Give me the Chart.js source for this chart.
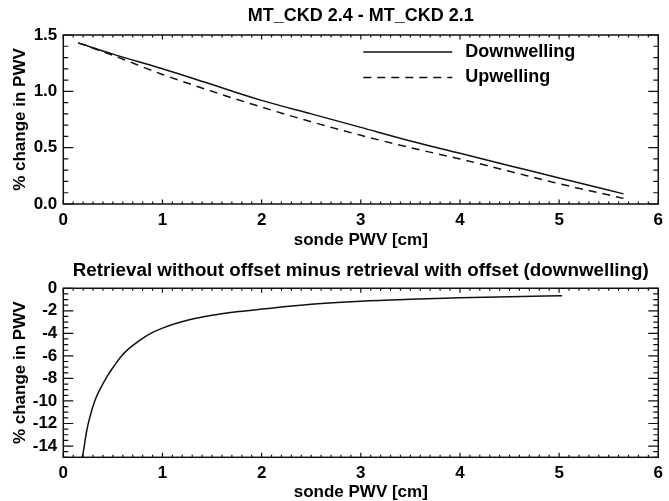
<!DOCTYPE html>
<html>
<head>
<meta charset="utf-8">
<title>MT_CKD 2.4 - MT_CKD 2.1</title>
<script src="https://cdn.jsdelivr.net/npm/chart.js@4.4.1/dist/chart.umd.min.js"></script>
<style>
  html, body { margin: 0; padding: 0; background: #fff; }
  #wrap { position: relative; width: 669px; height: 501px; }
  canvas { position: absolute; left: 0; }
  #topChart { top: 0; }
  #bottomChart { top: 250px; }
</style>
</head>
<body>
<div id="wrap">
  <canvas id="topChart" width="669" height="250"></canvas>
  <canvas id="bottomChart" width="669" height="251"></canvas>
</div>
<script>
// Top panel: MT_CKD 2.4 - MT_CKD 2.1
var PWV_TOP = [0.15, 0.5, 1, 1.5, 2, 2.5, 3, 3.5, 4, 4.5, 5, 5.65];
var DOWNWELLING = [1.43, 1.33, 1.20, 1.06, 0.92, 0.80, 0.68, 0.56, 0.45, 0.34, 0.23, 0.09];
var UPWELLING = [1.43, 1.32, 1.15, 1.00, 0.86, 0.73, 0.61, 0.50, 0.40, 0.29, 0.18, 0.05];

// Bottom panel: offset vs no offset
var PWV_BOTTOM = [0.19, 0.2, 0.233, 0.26, 0.317, 0.38, 0.45, 0.52, 0.583, 0.65, 0.733, 0.85,
                  1.0, 1.27, 1.5, 1.77, 2, 2.5, 3, 3.5, 4, 4.5, 5.03];
var OFFSET_DIFF = [-15, -14.6, -12.8, -11.7, -10.0, -8.8, -7.7, -6.8, -6.05, -5.45, -4.87, -4.15,
                   -3.54, -2.8, -2.4, -2.07, -1.85, -1.42, -1.15, -0.98, -0.85, -0.75, -0.66];

// Tick labels
var X_TICKS = [0, 1, 2, 3, 4, 5, 6];
var Y_TICKS_TOP = [0, 0.5, 1, 1.5];
var Y_TICKS_BOTTOM = [-14, -12, -10, -8, -6, -4, -2, 0];

(function() {
    'use strict';

    var FONT = "'Liberation Sans', Arial, Helvetica, sans-serif";
    var INK = '#111';

    Chart.defaults.font.family = FONT;
    Chart.defaults.font.weight = 'bold';
    Chart.defaults.font.size = 16;
    Chart.defaults.color = '#000';

    // IDL style box with ticks pointing inward, on all four sides
    var idlFrame = {
        id: 'idlFrame',
        afterDatasetsDraw: function(chart, args, opts) {
            var ctx = chart.ctx;
            var a = chart.chartArea;
            var xs = chart.scales.x;
            var ys = chart.scales.y;

            ctx.save();
            ctx.strokeStyle = INK;
            ctx.lineWidth = 1.5;
            ctx.strokeRect(a.left, a.top, a.right - a.left, a.bottom - a.top);

            ctx.lineWidth = 1.2;
            ctx.beginPath();
            eachTick(xs.min, xs.max, opts.xMinor, opts.xMajor, function(v, major) {
                var px = xs.getPixelForValue(v);
                var len = major ? opts.xMajorLen : opts.xMinorLen;
                ctx.moveTo(px, a.bottom);
                ctx.lineTo(px, a.bottom - len);
                ctx.moveTo(px, a.top);
                ctx.lineTo(px, a.top + len);
            });
            eachTick(ys.min, ys.max, opts.yMinor, opts.yMajor, function(v, major) {
                var py = ys.getPixelForValue(v);
                var len = major ? opts.yMajorLen : opts.yMinorLen;
                ctx.moveTo(a.left, py);
                ctx.lineTo(a.left + len, py);
                ctx.moveTo(a.right, py);
                ctx.lineTo(a.right - len, py);
            });
            ctx.stroke();
            ctx.restore();
        }
    };

    function eachTick(min, max, step, major, fn) {
        var n = Math.round((max - min) / step);
        for (var i = 0; i <= n; i++) {
            var v = min + i * step;
            var r = v / major;
            fn(v, Math.abs(r - Math.round(r)) < 1e-6);
        }
    }

    // Legend drawn inside the plot, line sample then label
    var insideLegend = {
        id: 'insideLegend',
        afterDatasetsDraw: function(chart, args, opts) {
            if (!opts.show) {
                return;
            }
            var ctx = chart.ctx;
            var a = chart.chartArea;
            ctx.save();
            ctx.font = 'bold 18px ' + FONT;
            ctx.textBaseline = 'middle';
            ctx.fillStyle = '#000';
            chart.data.datasets.forEach(function(ds, i) {
                var x0 = a.left + opts.x;
                var y0 = a.top + opts.y + i * opts.rowGap;
                ctx.strokeStyle = ds.borderColor;
                ctx.lineWidth = ds.borderWidth;
                ctx.setLineDash(ds.borderDash || []);
                ctx.beginPath();
                ctx.moveTo(x0, y0);
                ctx.lineTo(x0 + opts.lineLength, y0);
                ctx.stroke();
                ctx.setLineDash([]);
                ctx.fillText(ds.label, x0 + opts.lineLength + opts.textGap, y0);
            });
            ctx.restore();
        }
    };

    function toPoints(xs, ys) {
        return xs.map(function(x, i) {
            return { x: x, y: ys[i] };
        });
    }

    function fixedTicks(values) {
        return function(scale) {
            scale.ticks = values.map(function(v) {
                return { value: v };
            });
        };
    }

    function buildOptions(cfg) {
        return {
            responsive: false,
            animation: false,
            layout: { padding: { left: 0, right: 7, top: 0, bottom: 0 } },
            plugins: {
                legend: { display: false },
                tooltip: { enabled: false },
                title: {
                    display: true,
                    fullSize: false,
                    text: cfg.title,
                    color: '#000',
                    font: { size: cfg.titleSize, weight: 'bold', lineHeight: 1.2 },
                    padding: cfg.titlePadding
                },
                idlFrame: cfg.frame,
                insideLegend: cfg.legend || { show: false }
            },
            scales: {
                x: {
                    type: 'linear',
                    min: 0,
                    max: 6,
                    grid: { display: false, drawTicks: false },
                    border: { display: false },
                    afterBuildTicks: fixedTicks(X_TICKS),
                    afterFit: function(scale) { scale.height = cfg.xHeight; },
                    ticks: { padding: 6, font: { size: 17 }, maxRotation: 0 },
                    title: {
                        display: true,
                        text: 'sonde PWV [cm]',
                        font: { size: 17, lineHeight: 1 },
                        padding: { top: 0, bottom: cfg.xTitlePad }
                    }
                },
                y: {
                    type: 'linear',
                    min: cfg.yMin,
                    max: cfg.yMax,
                    grid: { display: false, drawTicks: false },
                    border: { display: false },
                    afterBuildTicks: fixedTicks(cfg.yTicks),
                    afterFit: function(scale) { scale.width = 63.3; },
                    ticks: { padding: 6, font: { size: 17 }, callback: cfg.yFormat },
                    title: {
                        display: true,
                        text: '% change in PWV',
                        font: { size: 17, lineHeight: 1.2 },
                        padding: { top: 10, bottom: 0 }
                    }
                }
            }
        };
    }

    var lineStyle = {
        borderColor: INK,
        borderWidth: 1.5,
        pointRadius: 0,
        fill: false,
        cubicInterpolationMode: 'monotone'
    };

    new Chart(document.getElementById('topChart'), {
        type: 'line',
        data: {
            datasets: [
                Object.assign({ label: 'Downwelling', data: toPoints(PWV_TOP, DOWNWELLING) }, lineStyle),
                Object.assign({ label: 'Upwelling', data: toPoints(PWV_TOP, UPWELLING), borderDash: [8, 6] }, lineStyle)
            ]
        },
        options: buildOptions({
            title: 'MT_CKD 2.4 - MT_CKD 2.1',
            titleSize: 18,
            titlePadding: { top: 5, bottom: 8.4 },
            xHeight: 46,
            xTitlePad: 1,
            yMin: 0,
            yMax: 1.5,
            yTicks: Y_TICKS_TOP,
            yFormat: function(v) { return v.toFixed(1); },
            frame: { xMinor: 0.1, xMajor: 1, xMinorLen: 2.5, xMajorLen: 4.5,
                     yMinor: 0.1, yMajor: 0.5, yMinorLen: 5, yMajorLen: 10 },
            legend: { show: true, x: 300, y: 17, rowGap: 25.5, lineLength: 89, textGap: 13 }
        }),
        plugins: [idlFrame, insideLegend]
    });

    new Chart(document.getElementById('bottomChart'), {
        type: 'line',
        data: {
            datasets: [
                Object.assign({ label: 'downwelling', data: toPoints(PWV_BOTTOM, OFFSET_DIFF) }, lineStyle)
            ]
        },
        options: buildOptions({
            title: 'Retrieval without offset minus retrieval with offset (downwelling)',
            titleSize: 18.8,
            titlePadding: { top: 9.5, bottom: 6.2 },
            xHeight: 43.7,
            xTitlePad: 0,
            yMin: -15,
            yMax: 0,
            yTicks: Y_TICKS_BOTTOM,
            yFormat: function(v) { return String(v); },
            frame: { xMinor: 0.1, xMajor: 1, xMinorLen: 2.5, xMajorLen: 4.5,
                     yMinor: 0.5, yMajor: 2, yMinorLen: 5, yMajorLen: 10 }
        }),
        plugins: [idlFrame]
    });
})();
</script>
</body>
</html>
